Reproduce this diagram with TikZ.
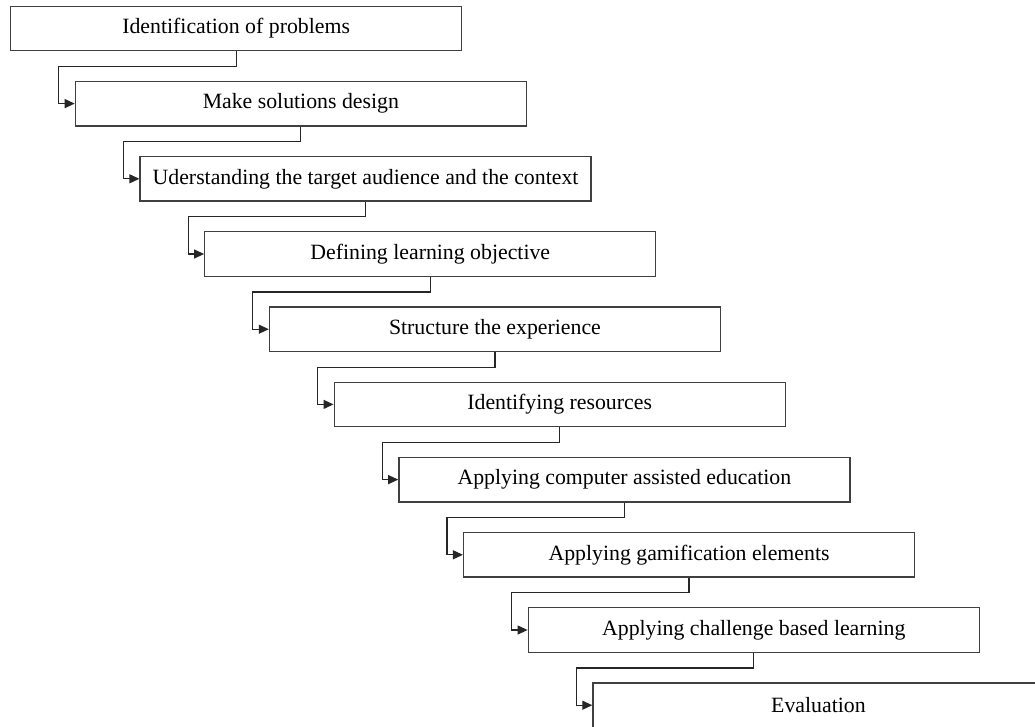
\documentclass[tikz,border=0pt]{standalone}
\usepackage{fontspec}
\setmainfont{Liberation Serif}
\usetikzlibrary{arrows.meta}

\begin{document}
\begin{tikzpicture}[x=1pt,y=-1pt,
		stage/.style={draw=black!75,line width=1.3pt,fill=white,minimum width=451pt,minimum height=44.5pt,inner sep=0pt,anchor=north west,font=\fontsize{21.8}{25}\selectfont},
		flow/.style={draw=black!85,line width=1.2pt,-{Triangle[length=10pt,width=9pt]}}]
		\fill[white] (0,0) rectangle (1035,726);
		\useasboundingbox (0,0) rectangle (1035,726);
		\clip (0,0) rectangle (1035,726);
		\foreach \txt [count=\i from 0] in {Identification of problems,Make solutions design,Uderstanding the target audience and the context,Defining learning objective,Structure the experience,Identifying resources,Applying computer assisted education,Applying gamification elements,Applying challenge based learning,Evaluation}
			\node[stage] (s\i) at (10+64.7*\i,5.5+75.2*\i) {\txt};
		\foreach \i [evaluate=\i as \j using int(\i+1)] in {0,...,8}
			\draw[flow] (s\i.south) -- ++(0,15) -| ([xshift=-16pt]s\j.west) -- (s\j.west);
	\end{tikzpicture}
\end{document}
